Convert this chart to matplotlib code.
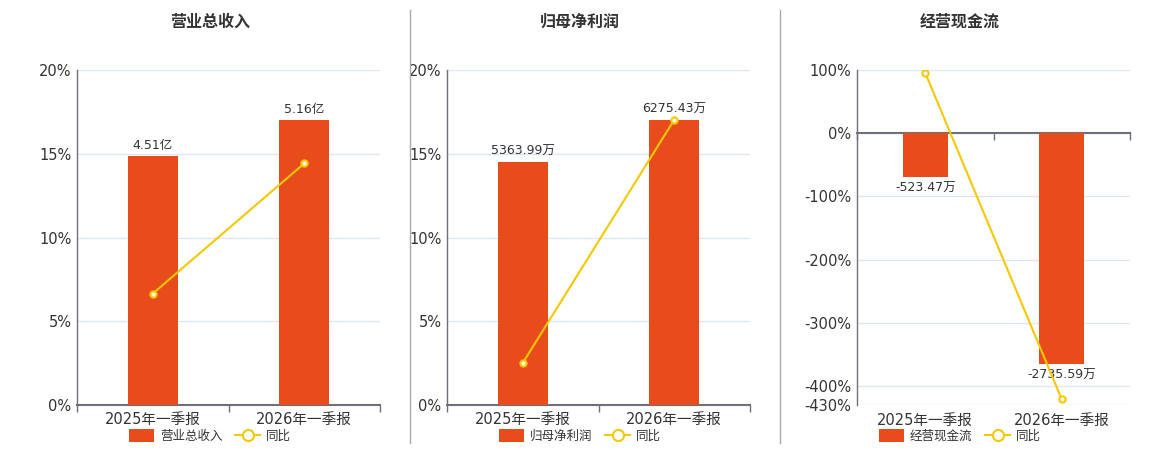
import matplotlib
matplotlib.use("Agg")
import matplotlib.pyplot as plt
from matplotlib.lines import Line2D

plt.rcParams['font.family'] = ['DejaVu Sans', 'Noto Sans CJK SC']

# data
categories = ["2025年一季报", "2026年一季报"]
titles = ["营业总收入", "归母净利润", "经营现金流"]

revenue = [4.51, 5.16]             # 亿
revenue_yoy = [6.65, 14.42]        # %
profit = [5363.99, 6275.43]        # 万
profit_yoy = [2.51, 17.03]         # %
cashflow = [-523.47, -2735.59]     # 万
cashflow_yoy = [95.3, -420.9]      # %

bar_color = '#E84C1C'
line_color = '#F5C800'
grid_color = '#E0E6F1'
axis_color = '#6E7079'
text_color = '#333333'

fig = plt.figure(figsize=(11.6, 4.5), dpi=100)

panels = [
    dict(rect=[77/1160, 0.1, 303/1160, 335/450], vals=revenue, yoy=revenue_yoy,
         unit='亿', fmt='{:.2f}', ylim=(0, 20), yticks=[0, 5, 10, 15, 20], cx=210),
    dict(rect=[447/1160, 0.1, 303/1160, 335/450], vals=profit, yoy=profit_yoy,
         unit='万', fmt='{:.2f}', ylim=(0, 20), yticks=[0, 5, 10, 15, 20], cx=580),
    dict(rect=[857/1160, 0.1, 273/1160, 335/450], vals=cashflow, yoy=cashflow_yoy,
         unit='万', fmt='{:.2f}', ylim=(-430, 100), yticks=[-430, -400, -300, -200, -100, 0, 100], cx=960),
]

x = list(range(len(categories)))

for i, p in enumerate(panels):
    ax = fig.add_axes(p['rect'])
    ax.set_xlim(-0.5, 1.5)
    ax.set_ylim(*p['ylim'])
    ax.set_yticks(p['yticks'])
    ax.set_yticklabels([f"{t}%" for t in p['yticks']], fontsize=10.5, color=text_color)
    ax.yaxis.grid(True, color=grid_color, linewidth=1)
    ax.set_axisbelow(True)
    ax.tick_params(axis='y', length=0, pad=4)
    for s in ['top', 'right']:
        ax.spines[s].set_visible(False)
    ax.spines['left'].set_color(axis_color)
    ax.spines['left'].set_linewidth(1)
    ax.spines['bottom'].set_color(axis_color)
    ax.spines['bottom'].set_linewidth(1.5)
    ax.set_xticks(x)
    ax.set_xticks([-0.5, 0.5, 1.5], minor=True)
    ax.tick_params(axis='x', which='major', length=0, pad=5, labelsize=10.5, labelcolor=text_color)
    ax.tick_params(axis='x', which='minor', length=5, color=axis_color, width=1)

    negative = min(p['vals']) < 0
    if negative:
        ax.spines['bottom'].set_position(('data', 0))
        ax.tick_params(axis='x', which='major', labelbottom=False)
        for xi, c in zip(x, categories):
            ax.text(xi, -0.045, c, transform=ax.get_xaxis_transform(), ha='center', va='center',
                    fontsize=10.5, color=text_color)
    else:
        ax.set_xticklabels(categories)

    # hidden axis for the bars
    axb = ax.twinx()
    axb.set_axis_off()
    if negative:
        lo = min(p['vals']) / 0.85
        hi = -lo * p['ylim'][1] / -p['ylim'][0]
        axb.set_ylim(lo, hi)
    else:
        axb.set_ylim(0, max(p['vals']) / 0.85)
    axb.set_xlim(-0.5, 1.5)
    bars = axb.bar(x, p['vals'], width=0.33, color=bar_color, label=titles[i])
    for b, v in zip(bars, p['vals']):
        lbl = p['fmt'].format(v) + p['unit']
        off = -3 if v < 0 else 3
        axb.annotate(lbl, (b.get_x() + b.get_width() / 2, v), xytext=(0, off), textcoords='offset points',
                     ha='center', va='top' if v < 0 else 'bottom', fontsize=9, color=text_color)

    # line axis, same scale as the percent axis
    axl = ax.twinx()
    axl.set_axis_off()
    axl.set_ylim(*p['ylim'])
    axl.set_xlim(-0.5, 1.5)
    ln, = axl.plot(x, p['yoy'], color=line_color, linewidth=1.5, marker='o', markersize=4.5,
                   markerfacecolor='white', markeredgecolor=line_color, markeredgewidth=1.5, label='同比')

    fig.text(p['cx'] / 1160, 1 - 22 / 450, titles[i], ha='center', va='center', fontsize=11.5,
             fontweight='bold', color=text_color)
    leg_handle = Line2D([0], [0], color=line_color, linewidth=1.5, marker='o', markersize=8,
                        markerfacecolor='white', markeredgecolor=line_color, markeredgewidth=1.5)
    fig.legend([bars, leg_handle], [titles[i], '同比'], loc='center', bbox_to_anchor=(p['cx'] / 1160, 1 - 436 / 450),
               ncol=2, frameon=False, fontsize=9, handlelength=2, handleheight=1.2, handletextpad=0.5,
               columnspacing=1.0, labelcolor=text_color)

# panel separators
for xd in [410, 780]:
    fig.add_artist(Line2D([xd / 1160, xd / 1160], [1 - 10 / 450, 1 - 443 / 450], color='#AAAAAA', linewidth=1))

fig.savefig('out.png', dpi=100)
